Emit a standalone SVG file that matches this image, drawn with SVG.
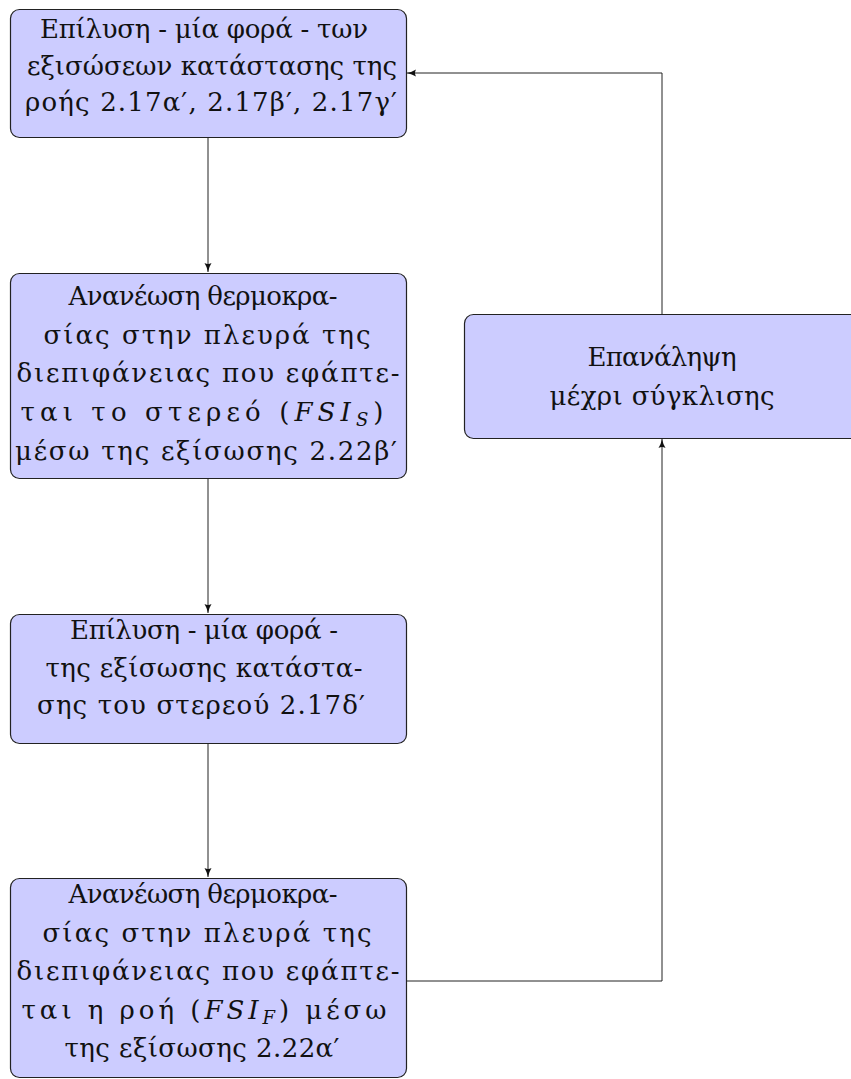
<svg xmlns="http://www.w3.org/2000/svg" width="851" height="1079" viewBox="0 0 851 1079">
<style>
.box{fill:#ccccff;stroke:#222;stroke-width:1.2}
.t{font-family:"DejaVu Serif","Liberation Serif",serif;font-size:26px;fill:#111;text-anchor:middle}
.i{font-style:italic}
.s{font-size:18px;font-style:italic}
.c{fill:none;stroke:#222;stroke-width:1}
</style>
<defs>
<marker id="ah" markerWidth="10" markerHeight="8" refX="9" refY="4" orient="auto" markerUnits="userSpaceOnUse">
<path d="M0,0.5 Q4,3 9,4 Q4,5 0,7.5 Q2,4 0,0.5 Z" fill="#111"/>
</marker>
</defs>
<rect width="851" height="1079" fill="#fff"/>
<g id="connectors">
<line class="c" x1="208" y1="137" x2="208" y2="272" marker-end="url(#ah)"/>
<line class="c" x1="208" y1="478" x2="208" y2="613" marker-end="url(#ah)"/>
<line class="c" x1="208" y1="743" x2="208" y2="877" marker-end="url(#ah)"/>
<polyline class="c" points="406,981 662,981 662,439" marker-end="url(#ah)"/>
<polyline class="c" points="662,314 662,73 407,73" marker-end="url(#ah)"/>
</g>
<g id="n1">
<rect class="box" x="10.5" y="9.5" width="396" height="128" rx="9"/>
<text class="t" x="204" y="38" textLength="328">Επίλυση - μία φορά - των</text>
<text class="t" x="212" y="75" textLength="370">εξισώσεων κατάστασης της</text>
<text class="t" x="211" y="111" textLength="372">ροής 2.17α′, 2.17β′, 2.17γ′</text>
</g>
<g id="n2">
<rect class="box" x="10.5" y="273.5" width="396" height="205" rx="9"/>
<text class="t" x="203" y="305" textLength="269">Ανανέωση θερμοκρα-</text>
<text class="t" x="207" y="344" textLength="327">σίας στην πλευρά της</text>
<text class="t" x="208" y="382" textLength="383">διεπιφάνειας που εφάπτε-</text>
<text class="t" x="202" y="421" textLength="363">ται το στερεό (<tspan class="i">FSI</tspan><tspan class="s" dy="5">S</tspan><tspan dy="-5">)</tspan></text>
<text class="t" x="206" y="460" textLength="382">μέσω της εξίσωσης 2.22β′</text>
</g>
<g id="n3">
<rect class="box" x="10.5" y="614.5" width="396" height="129" rx="9"/>
<text class="t" x="204" y="639" textLength="268">Επίλυση - μία φορά -</text>
<text class="t" x="204" y="677" textLength="317">της εξίσωσης κατάστα-</text>
<text class="t" x="201" y="714" textLength="328">σης του στερεού 2.17δ′</text>
</g>
<g id="n4">
<rect class="box" x="10.5" y="878.5" width="396" height="199" rx="9"/>
<text class="t" x="203" y="903" textLength="269">Ανανέωση θερμοκρα-</text>
<text class="t" x="207" y="942" textLength="329">σίας στην πλευρά της</text>
<text class="t" x="208" y="980" textLength="383">διεπιφάνειας που εφάπτε-</text>
<text class="t" x="204" y="1019" textLength="365">ται η ροή (<tspan class="i">FSI</tspan><tspan class="s" dy="5">F</tspan><tspan dy="-5">) μέσω</tspan></text>
<text class="t" x="202" y="1057" textLength="275">της εξίσωσης 2.22α′</text>
</g>
<g id="n5">
<rect class="box" x="464.5" y="314.5" width="396" height="124" rx="9"/>
<text class="t" x="662" y="366" textLength="149">Επανάληψη</text>
<text class="t" x="662" y="405" textLength="225">μέχρι σύγκλισης</text>
</g>
</svg>
